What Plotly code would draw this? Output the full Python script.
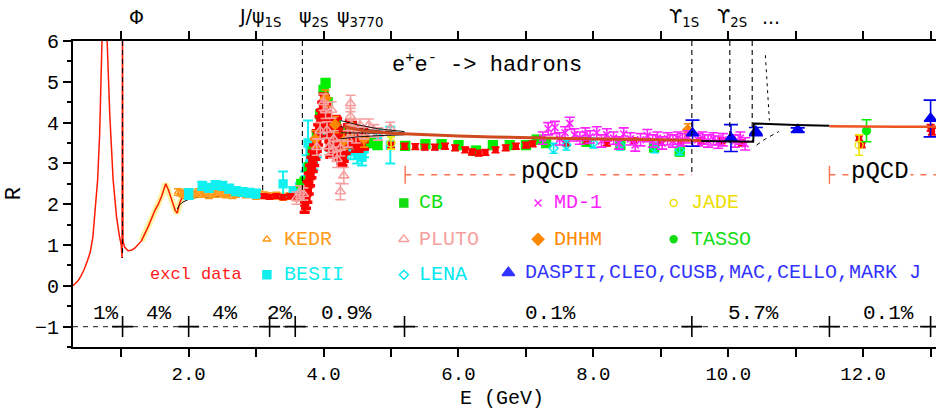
import plotly.graph_objects as go

# ---------------- data ----------------
# exclusive-channel sum (red curve)
excl_E = [0.285,0.32,0.36,0.40,0.45,0.50,0.54,0.58,0.62,0.65,0.68,0.70,0.717,0.74,0.76,0.775,0.791,0.83,0.88,0.93,0.97,1.0,1.012,1.019,1.026,1.05,1.1,1.15,1.2,1.3,1.4,1.45,1.5,1.55,1.6,1.66,1.7,1.75,1.8,1.83,1.87,1.9,2.0]
excl_R = [0.0,0.05,0.12,0.23,0.40,0.62,0.82,1.2,1.9,2.6,3.7,4.7,6.0,8.0,9.0,8.0,6.0,4.2,2.6,1.7,1.25,1.0,0.68,7.0,1.1,0.95,0.86,0.87,0.92,1.1,1.45,1.65,1.85,2.0,2.2,2.5,2.35,2.1,1.85,1.78,2.05,2.15,2.2]
band_E = [1.3,1.4,1.45,1.5,1.55,1.6,1.66,1.7,1.75,1.8,1.83,1.87,1.9]
band_R = [1.1,1.45,1.65,1.85,2.0,2.2,2.5,2.35,2.1,1.85,1.78,2.05,2.15]

# red data points: charm threshold region
redpsi_E = [3.72,3.74,3.76,3.78,3.80,3.82,3.84,3.86,3.88,3.90,3.92,3.94,3.96,3.98,4.00,4.02,4.04,4.06,4.08,4.10,4.12,4.14,4.16,4.18,4.20,4.22,4.24,4.26,4.28,4.30,4.33,4.36,4.39,4.42,4.45,4.48,4.52,4.56,4.60]
redpsi_R = [2.05,2.15,2.3,2.5,2.7,2.9,3.05,3.2,3.35,3.55,3.7,3.9,4.05,4.25,4.45,4.4,4.2,3.9,3.6,3.4,3.45,3.6,3.8,3.9,3.85,3.6,3.35,3.25,3.2,3.3,3.5,3.7,3.8,3.75,3.65,3.55,3.55,3.6,3.6]
redpsi_err = [0.25]*39
# red data points: elsewhere
red_E = [3.12,3.2,3.3,3.4,3.5,3.55,3.6,3.65,
         5.0,5.2,5.36,5.5,5.65,5.8,5.95,6.1,6.2,6.3,6.4,6.55,6.7,6.85,7.0,7.1,7.6,7.9,8.2,8.6,9.0,9.3,9.6,9.9,10.2,
         11.94,11.98,13.0,13.02]
red_R = [2.2,2.18,2.2,2.17,2.19,2.2,2.15,2.2,
         3.45,3.42,3.41,3.40,3.40,3.42,3.38,3.33,3.28,3.25,3.27,3.33,3.38,3.42,3.45,3.48,3.5,3.55,3.5,3.55,3.52,3.5,3.55,3.55,3.5,
         3.62,3.45,3.87,3.78]
red_err = [0.05]*8 + [0.07]*25 + [0.06,0.06,0.08,0.08]

kedr_E = [1.84,1.88,1.92,1.96,2.0,2.05,2.1,2.15,2.2,2.25,2.3,2.35,2.4,2.45,2.5,2.55,2.6,2.65,2.7,2.75,2.8,2.85,2.9,2.95,3.0,3.05,3.12,3.2,3.3,3.4,3.5,3.6,3.65,3.7]
kedr_R = [2.3,2.28,2.25,2.22,2.27,2.24,2.26,2.3,2.25,2.28,2.22,2.27,2.25,2.3,2.26,2.24,2.27,2.22,2.25,2.29,2.3,2.24,2.27,2.25,2.2,2.24,2.22,2.2,2.21,2.18,2.2,2.17,2.2,2.25]
kedr_err = [0.08]*34

besii_E = [2.0,2.2,2.3,2.4,2.5,2.6,2.7,2.8,2.9,3.0,3.4,3.55,3.65,3.73,3.75,3.77,3.8,3.85,3.9,4.0,4.1,4.2,4.3,4.4,4.5,4.57,4.6,4.8,4.99]
besii_R = [2.25,2.45,2.4,2.47,2.45,2.38,2.32,2.3,2.28,2.26,2.5,2.3,2.4,2.6,2.9,3.5,3.3,3.1,3.4,3.9,3.6,3.8,3.4,3.3,3.2,3.15,3.35,3.6,3.45]
besii_err = [0.12,0.1,0.1,0.1,0.1,0.1,0.1,0.1,0.1,0.1,0.3,0.12,0.12,0.2,0.3,0.55,0.25,0.25,0.25,0.3,0.3,0.3,0.25,0.2,0.2,0.2,0.2,0.25,0.45]

pluto_E = [3.6,3.65,3.7,3.9,3.95,4.0,4.03,4.05,4.08,4.12,4.14,4.15,4.2,4.25,4.25,4.3,4.36,4.4,4.4,4.42,4.48,4.54,4.6,4.67,4.75,4.81,4.99]
pluto_R = [2.15,2.3,2.25,3.4,3.8,4.5,4.3,3.82,3.41,4.31,3.33,3.6,3.1,3.38,2.31,2.7,3.6,4.47,4.15,3.86,3.7,3.94,3.75,3.94,3.8,3.72,3.86]
pluto_err = [0.15,0.15,0.15,0.2,0.2,0.2,0.2,0.2,0.2,0.2,0.2,0.2,0.2,0.2,0.2,0.2,0.2,0.2,0.2,0.2,0.2,0.15,0.15,0.15,0.15,0.15,0.15]

cb_E = [3.67,3.72,3.78,3.84,3.9,3.95,4.0,4.03,4.06,4.1,4.14,4.18,4.22,4.26,4.3,4.36,4.42,4.48,4.55,4.62,4.7,4.8,
        5.21,5.51,5.75,6.0,6.26,6.51,6.76,7.0,7.16,7.3,7.9,8.4,8.9,9.28]
cb_R = [2.5,2.55,2.9,3.3,3.7,4.2,4.8,4.97,4.5,3.9,3.7,4.0,3.7,3.3,3.5,3.75,3.9,3.65,3.55,3.5,3.5,3.45,
        3.43,3.47,3.47,3.45,3.31,3.45,3.45,3.45,3.58,3.5,3.53,3.45,3.39,3.29]
cb_err = [0.1]*36

md1_E = [7.25,7.33,7.43,7.5,7.58,7.65,7.72,7.8,7.88,7.95,8.05,8.12,8.2,8.3,8.38,8.45,8.55,8.62,8.7,8.8,8.88,8.95,9.02,9.1,9.18,9.25,9.32,9.4,9.55,9.62,9.7,9.78,9.85,9.92,10.1,10.18,10.25]
md1_R = [3.62,3.85,3.88,3.6,3.75,3.98,3.7,3.62,3.72,3.65,3.75,3.55,3.7,3.62,3.5,3.72,3.6,3.45,3.58,3.68,3.55,3.62,3.5,3.6,3.55,3.62,3.58,3.65,3.58,3.62,3.55,3.6,3.52,3.58,3.55,3.62,3.48]
md1_err = [0.15]*37

lena_E = [7.41,7.6,8.0,8.4,8.91,9.28]
lena_R = [3.37,3.45,3.5,3.45,3.38,3.33]
lena_err = [0.12,0.12,0.12,0.12,0.12,0.12]

dhhm_E = [3.88,4.03,4.17,4.3,4.42,4.6,9.4]
dhhm_R = [3.6,4.6,3.95,3.55,3.9,3.6,3.82]
dhhm_err = [0.2,0.2,0.2,0.2,0.2,0.2,0.15]

jade_E = [5.0,11.94]
jade_R = [3.5,3.45]
jade_err = [0.15,0.25]

tasso_E = [12.05]
tasso_R = [3.8]
tasso_err = [0.27]

dasp_E = [9.47,10.04,10.41,11.03,13.0]
dasp_R = [3.74,3.62,3.78,3.82,4.1]
dasp_err = [0.32,0.33,0.1,0.05,0.45]

# theory curves
th1_E = [1.83,1.86,1.9,1.95,2.0,2.1,2.3,2.6,3.0,3.4,3.7]
th1_R = [1.88,1.97,2.04,2.09,2.12,2.16,2.18,2.2,2.21,2.22,2.22]
fan_E = [4.25,4.5,4.8,5.2]
fan_R = [[4.05,3.95,3.85,3.78],[3.9,3.85,3.8,3.75],[3.75,3.75,3.74,3.72],[3.6,3.65,3.68,3.7]]
mix_E = [4.3,4.6,5.0,5.5,6.0,6.5,7.0,7.5,8.0,8.5,9.0,9.6]
mix_R = [3.9,3.8,3.74,3.7,3.67,3.65,3.63,3.62,3.6,3.59,3.58,3.56]
th2_E = [9.6,10.0,10.37,10.38,10.6,11.0,11.5]
th2_R = [3.55,3.54,3.53,3.98,3.96,3.94,3.92]
th3_E = [11.5,12.0,12.5,13.08]
th3_R = [3.91,3.9,3.9,3.9]
thd_E = [10.42,10.55,10.75]
thd_R = [3.45,3.6,3.78]

# resonances
res_E = [1.019,3.097,3.686,9.460,10.023,10.355]
res_Rlow = [0.68,2.35,2.3,2.72,3.5,3.53]
ups4_E = [10.55,10.61]
ups4_R = [5.65,4.05]

# pQCD regions
pqcd_ranges = [(5.21,9.46),(11.5,13.08)]
pqcd_R = 2.72

# error budget row
err_marks = [1.02,2.0,3.2,3.58,5.2,9.46,11.5,13.0]
pct_E = [0.77,1.56,2.54,3.35,4.34,7.36,10.37,12.37]
pct_txt = ["1%","4%","4%","2%","0.9%","0.1%","5.7%","0.1%"]

# ---------------- figure ----------------
FONT = "Liberation Mono, DejaVu Sans Mono, monospace"
XR = [0.285, 13.08]
fig = go.Figure()

def line(x, y, color, width=1.2, dash=None, axis='x'):
    fig.add_trace(go.Scatter(x=x, y=y, mode='lines', line=dict(color=color, width=width, dash=dash),
                             showlegend=False, hoverinfo='skip', xaxis=axis))

def pts(E, R, err, color, symbol, size, cap=4, lw=1.3, th=1.6):
    fig.add_trace(go.Scatter(x=E, y=R, mode='markers',
                             marker=dict(symbol=symbol, size=size, color=color, line=dict(color=color, width=lw)),
                             error_y=dict(type='data', array=err, color=color, thickness=th, width=cap),
                             showlegend=False, hoverinfo='skip'))

# baseline dashed row
line(XR, [-1, -1], '#444444', 1.2, '5px,5px')

# pQCD ranges
for a, b in pqcd_ranges:
    line([a, b], [pqcd_R, pqcd_R], '#ff7050', 1.4, '6px,7px')
    line([a, a], [pqcd_R - 0.22, pqcd_R + 0.22], '#ff7050', 1.4)

# excl curve
line(band_E, band_R, '#fff3a0', 6)
line(excl_E, excl_R, '#ff1a00', 1.5)
line(th1_E, th1_R, 'black', 1.0)

# data
pts(kedr_E, kedr_R, kedr_err, '#ff9a1a', 'triangle-up-open', 6, 4)
pts(besii_E, besii_R, besii_err, '#10f0f0', 'square', 8, 5, 1.3, 2)
pts(cb_E, cb_R, cb_err, '#00ee00', 'square', 9, 4)
pts(redpsi_E, redpsi_R, redpsi_err, '#ff0000', 'square', 8, 5, 1.3, 3.5)
pts(red_E, red_R, red_err, '#ff0000', 'square', 5, 4)
pts(dhhm_E, dhhm_R, dhhm_err, '#ff8800', 'diamond', 8, 4)
pts(pluto_E, pluto_R, pluto_err, '#f5a0a0', 'triangle-up-open', 9, 5, 1.6)
pts(lena_E, lena_R, lena_err, '#00e8f0', 'diamond-open', 7, 4)
pts(md1_E, md1_R, md1_err, '#ff22ff', 'x-thin', 7, 5, 1.6)
pts(jade_E, jade_R, jade_err, '#f0e800', 'circle-open', 8, 4)
pts(tasso_E, tasso_R, tasso_err, '#00ee00', 'circle', 8, 5)
pts(dasp_E, dasp_R, dasp_err, '#0000ee', 'triangle-up', 11, 7)

# theory lines
for r in fan_R:
    line(fan_E, r, 'black', 0.9)
line(mix_E, mix_R, '#d04a20', 3)
line(th2_E, th2_R, 'black', 2)
line(th3_E, th3_R, '#ee5522', 2.5)
line(thd_E, thd_R, 'black', 1, '4px,4px')

# resonance markers
for e, lo in zip(res_E, res_Rlow):
    line([e, e], [6, lo], 'black', 1.1, '5px,4px')
line(ups4_E, ups4_R, 'black', 1.0, '3px,4px')

# error budget crosses
fig.add_trace(go.Scatter(x=err_marks, y=[-1]*len(err_marks), mode='markers',
                         marker=dict(symbol='cross-thin', size=15, line=dict(color='black', width=1.6)),
                         showlegend=False, hoverinfo='skip', cliponaxis=False))

# legend
leg = [
    ("CB", '#11dd11', 'square', 8, 5.19, 2.03, 5.39),
    ("MD-1", '#ff22ff', 'x-thin', 7, 7.18, 2.03, 7.39),
    ("JADE", '#eedd00', 'circle-open', 7, 9.19, 2.03, 9.42),
    ("KEDR", '#ff9a1a', 'triangle-up-open', 7, 3.16, 1.14, 3.39),
    ("PLUTO", '#f5a0a0', 'triangle-up-open', 9, 5.19, 1.14, 5.39),
    ("DHHM", '#ff8800', 'diamond', 9, 7.18, 1.14, 7.39),
    ("TASSO", '#11dd11', 'circle', 7, 9.19, 1.14, 9.42),
    ("BESII", '#10eeee', 'square', 8, 3.16, 0.27, 3.39),
    ("LENA", '#00e8f0', 'diamond-open', 7, 5.19, 0.27, 5.39),
    ("DASPII,CLEO,CUSB,MAC,CELLO,MARK J", '#3333ff', 'triangle-up', 11, 6.74, 0.32, 6.95),
]
ann = []
for txt, col, sym, sz, mx, my, tx in leg:
    fig.add_trace(go.Scatter(x=[mx], y=[my], mode='markers',
                             marker=dict(symbol=sym, size=sz, color=col, line=dict(color=col, width=1.4)),
                             showlegend=False, hoverinfo='skip'))
    ann.append(dict(x=tx, y=my, xref='x', yref='y', text=txt, showarrow=False, xanchor='left',
                    yanchor='middle', font=dict(family=FONT, size=20, color=col)))
ann.append(dict(x=1.39, y=0.27, xref='x', yref='y', text="excl data", showarrow=False, xanchor='left',
                yanchor='middle', font=dict(family=FONT, size=17, color='#ff1a1a')))

# percent labels
for e, t in zip(pct_E, pct_txt):
    ann.append(dict(x=e, y=-0.68, xref='x', yref='y', text=t, showarrow=False,
                    font=dict(family=FONT, size=21, color='black')))

# pQCD labels
ann.append(dict(x=7.36, y=2.8, xref='x', yref='y', text="pQCD", showarrow=False, bgcolor='white',
                font=dict(family=FONT, size=24, color='black')))
ann.append(dict(x=12.25, y=2.8, xref='x', yref='y', text="pQCD", showarrow=False, bgcolor='white',
                font=dict(family=FONT, size=24, color='black')))

# process label
ann.append(dict(x=4.99, y=5.46, xref='x', yref='y', text="e<sup>+</sup>e<sup>-</sup> -> hadrons",
                showarrow=False, xanchor='left', font=dict(family=FONT, size=22, color='black')))

# resonance names on top
top = [("Φ", 1.22, 'center'), ("J/ψ<sub>1S</sub>", 2.72, 'left'), ("ψ<sub>2S</sub>", 3.61, 'left'),
       ("ψ<sub>3770</sub>", 4.17, 'left'), ("ϒ<sub>1S</sub>", 9.09, 'left'), ("ϒ<sub>2S</sub>", 9.80, 'left'),
       ("...", 10.47, 'left')]
for t, e, xa in top:
    ann.append(dict(x=e, y=1.078, xref='x', yref='paper', text=t, showarrow=False, xanchor=xa,
                    yanchor='middle', font=dict(family="DejaVu Sans, sans-serif", size=19, color='black')))

# axis titles
ann.append(dict(x=-0.068, y=0.5, xref='paper', yref='paper', text="R", textangle=-90, showarrow=False,
                xanchor='center', yanchor='middle', font=dict(family=FONT, size=22, color='black')))
ann.append(dict(x=6.65, y=-0.167, xref='x', yref='paper', text="E (GeV)", showarrow=False,
                xanchor='center', yanchor='middle', font=dict(family=FONT, size=20, color='black')))

# invisible trace to anchor top axis
fig.add_trace(go.Scatter(x=XR, y=[0, 0], xaxis='x2', mode='lines', line=dict(width=0),
                         showlegend=False, hoverinfo='skip'))

xt = [2, 4, 6, 8, 10, 12]
fig.update_layout(
    width=936, height=413,
    margin=dict(l=73, r=0, t=41, b=66),
    plot_bgcolor='white', paper_bgcolor='white',
    annotations=ann,
    xaxis=dict(range=XR, showgrid=False, zeroline=False, showline=True, linecolor='black', linewidth=2,
               tickvals=xt, ticktext=["%.1f" % v for v in xt], ticks='outside', ticklen=8, tickwidth=2,
               tickcolor='black', tickfont=dict(family=FONT, size=19, color='black'),
               minor=dict(tickvals=[1, 3, 5, 7, 9, 11, 13], ticks='outside', ticklen=8, tickwidth=2,
                          tickcolor='black')),
    xaxis2=dict(range=XR, overlaying='x', side='top', showgrid=False, zeroline=False, showline=True,
                linecolor='black', linewidth=2, tickvals=list(range(1, 14)), ticks='outside',
                ticklen=8, tickwidth=2, tickcolor='black', showticklabels=False),
    yaxis=dict(range=[-1.5, 6], showgrid=False, zeroline=False, showline=True, linecolor='black',
               linewidth=2, tickvals=[-1, 0, 1, 2, 3, 4, 5, 6], ticks='outside', ticklen=8, tickwidth=2,
               tickcolor='black', tickfont=dict(family=FONT, size=20, color='black'),
               minor=dict(dtick=0.5, tick0=0, ticks='outside', ticklen=4, tickwidth=2, tickcolor='black')),
)

fig.write_html("out.html", config={'displayModeBar': False},
               post_script="document.body.style.margin='0px';")
